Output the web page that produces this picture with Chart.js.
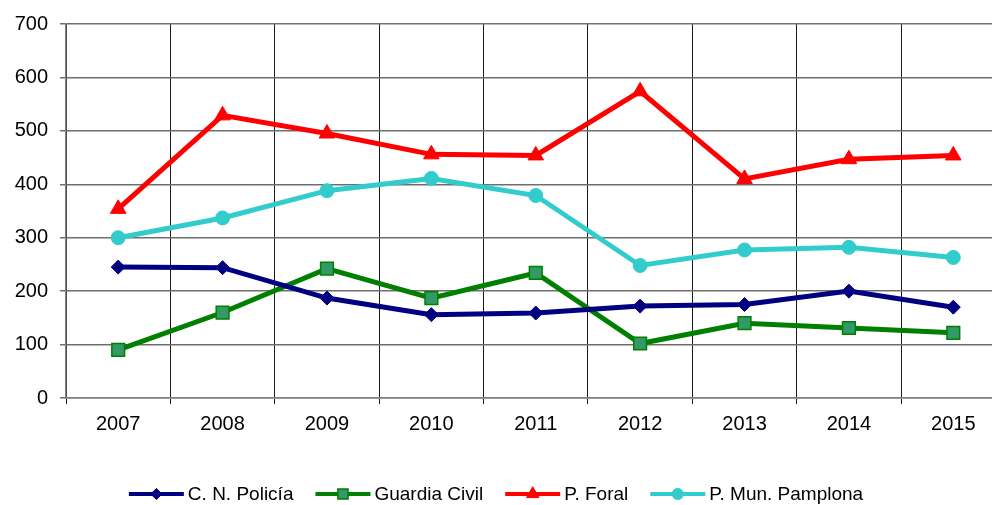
<!DOCTYPE html>
<html>
<head>
<meta charset="utf-8">
<script src="https://cdn.jsdelivr.net/npm/chart.js@4"></script>
<style>
  html, body { margin: 0; padding: 0; background: #fff; overflow: hidden; }
  #wrap { width: 992px; height: 505px; overflow: hidden; }
</style>
</head>
<body>
<div id="wrap"><canvas id="chart" width="1016" height="505"></canvas></div>
<script>
const years = ['2007', '2008', '2009', '2010', '2011', '2012', '2013', '2014', '2015'];
const policia = [245, 244, 187, 156, 159, 172, 175, 200, 170];
const guardiaCivil = [90, 160, 242, 187, 234, 102, 140, 131, 122];
const pForal = [354, 529, 495, 456, 454, 574, 410, 447, 454];
const pMunPamplona = [300, 337, 388, 411, 379, 248, 277, 282, 263];
const yTicks = [0, 100, 200, 300, 400, 500, 600, 700];

const seriesNames = ['C. N. Policía', 'Guardia Civil', 'P. Foral', 'P. Mun. Pamplona'];

// legend drawn by hand: line with the marker in the middle
const legendPlugin = {
  id: 'lineLegend',
  afterDraw(chart) {
    const ctx = chart.ctx;
    ctx.save();
    ctx.font = '19px "Liberation Sans", Arial, sans-serif';
    ctx.textBaseline = 'middle';
    const symW = 55, gapText = 4, gapItem = 22;
    let total = 0;
    chart.data.datasets.forEach((ds, i) => {
      total += symW + gapText + ctx.measureText(ds.label).width;
      if (i < chart.data.datasets.length - 1) total += gapItem;
    });
    let x = 496 - total / 2;
    const y = 494;
    chart.data.datasets.forEach(ds => {
      ctx.strokeStyle = ds.borderColor;
      ctx.lineWidth = 4;
      ctx.beginPath();
      ctx.moveTo(x, y);
      ctx.lineTo(x + symW, y);
      ctx.stroke();
      ctx.fillStyle = ds.pointBackgroundColor;
      ctx.strokeStyle = ds.pointBorderColor;
      ctx.lineWidth = ds.pointBorderWidth;
      Chart.helpers.drawPoint(ctx, {
        pointStyle: ds.pointStyle,
        radius: ds.pointRadius * 0.8,
        borderWidth: ds.pointBorderWidth,
        rotation: 0
      }, x + symW / 2, y);
      ctx.fillStyle = '#000';
      ctx.fillText(ds.label, x + symW + gapText, y + 1);
      x += symW + gapText + ctx.measureText(ds.label).width + gapItem;
    });
    ctx.restore();
  }
};

const ctx = document.getElementById('chart');
new Chart(ctx, {
  type: 'line',
  data: {
    labels: years,
    datasets: [{
      label: seriesNames[0],
      data: policia,
      borderColor: '#000080',
      backgroundColor: '#000080',
      pointBackgroundColor: '#000080',
      pointBorderColor: '#000080',
      pointBorderWidth: 1,
      pointStyle: 'rectRot',
      pointRadius: 7,
      borderWidth: 5
    }, {
      label: seriesNames[1],
      data: guardiaCivil,
      borderColor: '#008000',
      backgroundColor: '#339966',
      pointBackgroundColor: '#339966',
      pointBorderColor: '#008000',
      pointBorderWidth: 1.5,
      pointStyle: 'rect',
      pointRadius: 9,
      borderWidth: 5
    }, {
      label: seriesNames[2],
      data: pForal,
      borderColor: '#FF0000',
      backgroundColor: '#FF0000',
      pointBackgroundColor: '#FF0000',
      pointBorderColor: '#FF0000',
      pointBorderWidth: 1,
      pointStyle: 'triangle',
      pointRadius: 9,
      borderWidth: 5
    }, {
      label: seriesNames[3],
      data: pMunPamplona,
      borderColor: '#33CCCC',
      backgroundColor: '#33CCCC',
      pointBackgroundColor: '#33CCCC',
      pointBorderColor: '#33CCCC',
      pointBorderWidth: 1,
      pointStyle: 'circle',
      pointRadius: 7,
      borderWidth: 5
    }]
  },
  options: {
    responsive: false,
    animation: false,
    layout: { padding: { top: 21, right: 3, bottom: 67, left: 0 } },
    plugins: {
      legend: { display: false },
      tooltip: { enabled: false }
    },
    scales: {
      x: {
        offset: true,
        grid: {
          offset: true,
          color: '#1a1a1a',
          lineWidth: 1,
          tickLength: 6
        },
        border: { color: '#808080', width: 1.5 },
        ticks: {
          color: '#000',
          padding: 8,
          maxRotation: 0,
          font: { family: '"Liberation Sans", Arial, sans-serif', size: 20 }
        },
        afterFit: function (scale) { scale.height = 40; }
      },
      y: {
        min: 0,
        max: 700,
        afterBuildTicks: function (scale) {
          scale.ticks = yTicks.map(v => ({ value: v }));
        },
        grid: {
          color: '#6e6e6e',
          lineWidth: 1.5,
          tickLength: 6
        },
        border: { color: '#808080', width: 1.5 },
        ticks: {
          color: '#000',
          padding: 12,
          font: { family: '"Liberation Sans", Arial, sans-serif', size: 20 }
        },
        afterFit: function (scale) { scale.width = 66; }
      }
    }
  },
  plugins: [legendPlugin]
});
</script>
</body>
</html>
